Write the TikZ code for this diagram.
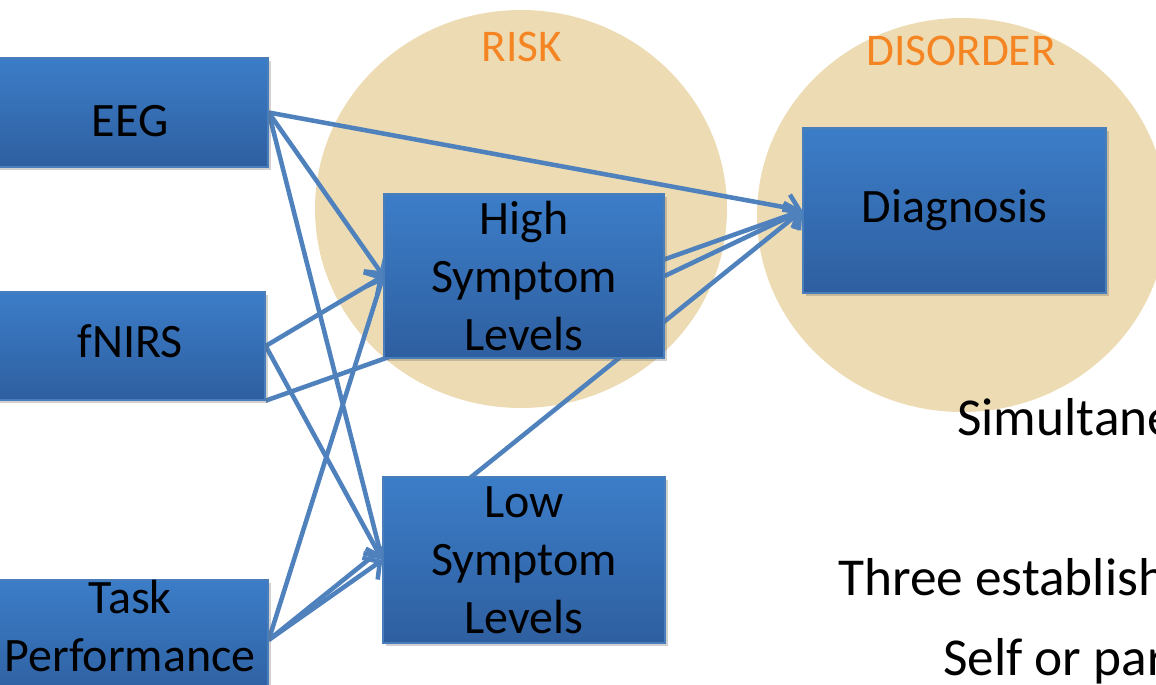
\documentclass[tikz,border=0pt]{standalone}
\usepackage{fontspec}
\setmainfont{Carlito}
\usepackage{tikz}
\usetikzlibrary{arrows.meta,shadows}

\definecolor{zonefill}{RGB}{237,220,179}
\definecolor{boxtop}{RGB}{60,125,200}
\definecolor{boxbot}{RGB}{46,95,160}
\definecolor{boxedge}{RGB}{74,126,187}
\definecolor{linkblue}{RGB}{79,129,189}
\definecolor{zonetext}{RGB}{245,133,35}

\pgfdeclarelayer{zones}
\pgfdeclarelayer{links}
\pgfsetlayers{zones,links,main}

\tikzset{
  box/.style={draw=boxedge, line width=1pt, top color=boxtop, bottom color=boxbot,
    inner sep=0pt, align=center, font=\fontsize{36}{43.5}\selectfont,
    drop shadow={shadow xshift=2pt, shadow yshift=-2.5pt, opacity=0.3, fill=black!60}},
  link/.style={draw=linkblue, line width=3.4pt, -{Straight Barb[length=9pt,width=20pt]}},
  zone/.style={fill=zonefill},
  zonelabel/.style={text=zonetext, inner sep=0pt, anchor=base, font=\fontsize{34}{40}\selectfont},
  sidetext/.style={inner sep=0pt, anchor=base west, font=\fontsize{40}{48}\selectfont}
}

\begin{document}
\begin{tikzpicture}[x=0.75pt,y=0.75pt,yscale=-1,xscale=1]
\useasboundingbox (0,0) rectangle (1156,685);

%Shape: Ellipse [risk]
\begin{pgfonlayer}{zones}
\fill [zone] (521,209) ellipse [x radius=206, y radius=199];
%Shape: Ellipse [disorder]
\fill [zone] (962,215) ellipse [x radius=205, y radius=197];
\end{pgfonlayer}

% Text Node
\node [zonelabel] (risklabel) at (522,62) {RISK};
% Text Node
\node [zonelabel] (disorderlabel) at (961,65) {DISORDER};

%Shape: Rectangle [measures]
\node [box, minimum width=207pt, minimum height=81.75pt, text height=36.75pt, text depth=0pt] (eeg) at (130,112.5) {EEG};
\node [box, minimum width=202.5pt, minimum height=81pt, text height=16.5pt, text depth=0pt] (fnirs) at (130,346) {fNIRS};
\node [box, minimum width=207pt, minimum height=90pt] (task) at (130,640) {};
\node [align=center, font=\fontsize{36}{43.5}\selectfont] (tasktext) at (130,626) {Task\\Performance};
%Shape: Rectangle [symptoms]
\node [box, minimum width=210pt, minimum height=123pt] (high) at (524,276) {High\\Symptom\\Levels};
\node [box, minimum width=211.5pt, minimum height=124.5pt] (low) at (524,560) {Low\\Symptom\\Levels};
%Shape: Rectangle [diagnosis]
\node [box, minimum width=227.25pt, minimum height=123.75pt] (diag) at (954.5,210.5) {Diagnosis};

%Straight Lines
\begin{pgfonlayer}{links}
\draw [link] (eeg.east) -- (diag.west);
\draw [link] (eeg.east) -- (high.west);
\draw [link] (eeg.east) -- (low.west);
\draw [link] (fnirs.east) -- (high.west);
\draw [link] (fnirs.east) -- (low.west);
\draw [link] (fnirs.south east) -- (diag.west);
\draw [link] (task.east) -- (high.west);
\draw [link] (task.east) -- (low.west);
\draw [link] (task.east) -- (diag.west);
\draw [link] (high.east) -- (diag.west);
\end{pgfonlayer}

% Text Node
\node [sidetext] (simtext) at (957,435) {Simultane};
% Text Node
\node [sidetext] (threetext) at (838,595) {Three establish};
% Text Node
\node [sidetext] (selftext) at (943,675) {Self or par};

\end{tikzpicture}
\end{document}
